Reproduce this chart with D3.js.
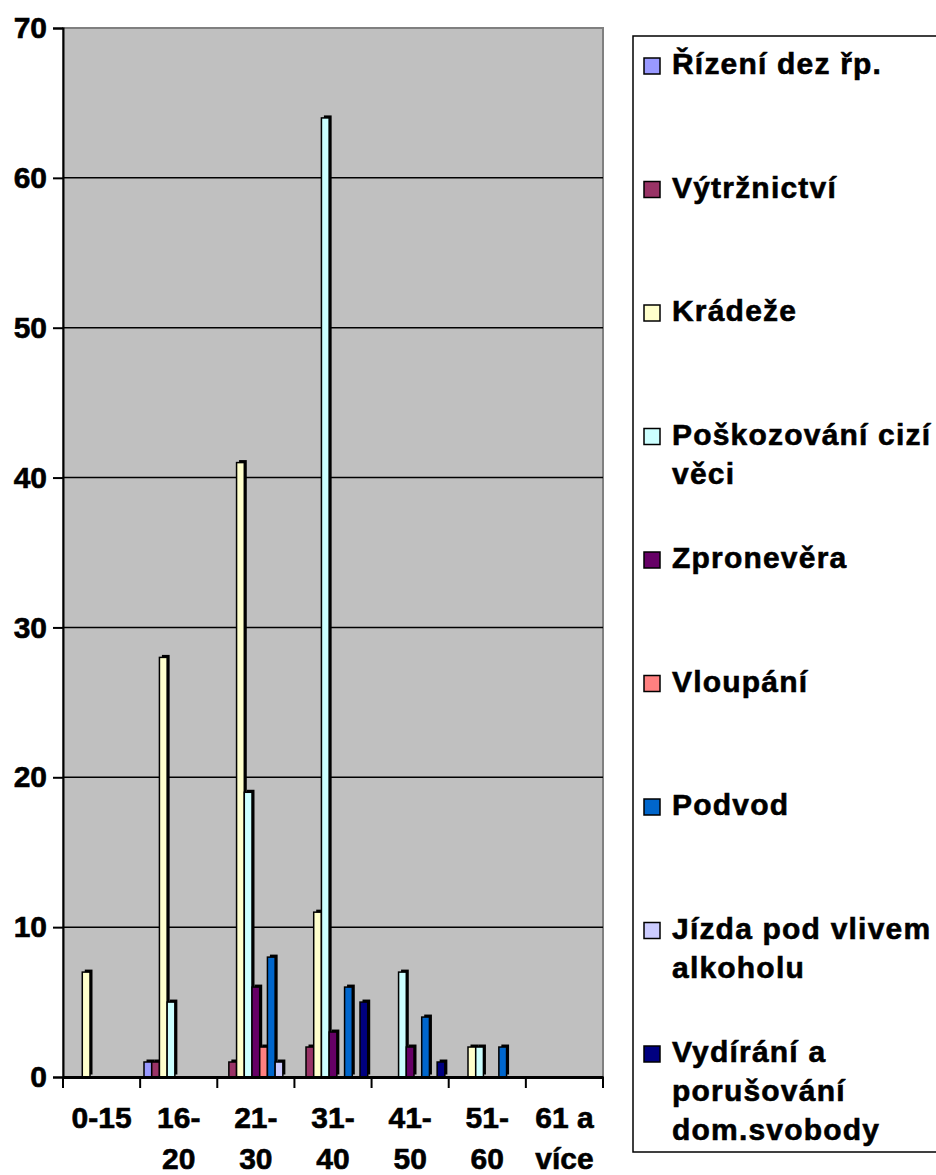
<!DOCTYPE html>
<meta charset="utf-8">
<style>
body { margin: 0; background: #fff; }
text { font-family: "Liberation Sans", Arial, sans-serif; font-weight: 700; fill: #000; stroke: #000; stroke-width: 0.6px; }
</style>
<svg width="936" height="1175"></svg>
<script src="https://cdn.jsdelivr.net/npm/d3@7"></script>
<script>
// categories (age groups) and their tick label lines
var categories = ["0-15", "16-20", "21-30", "31-40", "41-50", "51-60", "61 a více"];
var tickLines = [["0-15"], ["16-", "20"], ["21-", "30"], ["31-", "40"], ["41-", "50"], ["51-", "60"], ["61 a", "více"]];

// series values, one per category
var rizeni      = [0, 1, 0, 0, 0, 0, 0];
var vytrznictvi = [0, 1, 1, 2, 0, 0, 0];
var kradeze     = [7, 28, 41, 11, 0, 2, 0];
var poskozovani = [0, 5, 19, 64, 7, 2, 0];
var zpronevera  = [0, 0, 6, 3, 2, 0, 0];
var vloupani    = [0, 0, 2, 0, 0, 0, 0];
var podvod      = [0, 0, 8, 6, 4, 2, 0];
var jizda       = [0, 0, 1, 0, 0, 0, 0];
var vydirani    = [0, 0, 0, 5, 1, 0, 0];

var seriesNames = ["Řízení dez řp.", "Výtržnictví", "Krádeže", "Poškozování cizí věci", "Zpronevěra",
  "Vloupání", "Podvod", "Jízda pod vlivem alkoholu", "Vydírání a porušování dom.svobody"];
var legendLines = [["Řízení dez řp."], ["Výtržnictví"], ["Krádeže"], ["Poškozování cizí", "věci"], ["Zpronevěra"],
  ["Vloupání"], ["Podvod"], ["Jízda pod vlivem", "alkoholu"], ["Vydírání a", "porušování", "dom.svobody"]];
var seriesValues = [rizeni, vytrznictvi, kradeze, poskozovani, zpronevera, vloupani, podvod, jizda, vydirani];
var colors = ["#9999FF", "#993366", "#FFFFCC", "#CCFFFF", "#660066", "#FF8080", "#0066CC", "#CCCCFF", "#000080"];
var yTicks = [0, 10, 20, 30, 40, 50, 60, 70];

var svg = d3.select("svg"),
    plot = {left: 63, top: 28, right: 603, bottom: 1077},
    font = "'Liberation Sans', Arial, sans-serif";

// scales
var x = d3.scaleBand().domain(categories).range([plot.left, plot.right]).padding(0),
    xs = d3.scaleBand().domain(d3.range(seriesNames.length)).range([0, x.bandwidth()]).paddingInner(0).paddingOuter(0.5),
    y = d3.scaleLinear().domain([0, 70]).range([plot.bottom, plot.top]),
    z = d3.scaleOrdinal().domain(d3.range(seriesNames.length)).range(colors);

// plot area background
svg.append("rect")
    .attr("x", plot.left).attr("y", plot.top)
    .attr("width", plot.right - plot.left).attr("height", plot.bottom - plot.top)
    .attr("fill", "#C0C0C0").attr("stroke", "#808080").attr("stroke-width", 2);

// gridlines
svg.append("g").selectAll("line")
    .data(yTicks.filter(function(d) { return d > 0 && d < 70; }))
    .enter().append("line")
    .attr("x1", plot.left).attr("x2", plot.right)
    .attr("y1", function(d) { return y(d); }).attr("y2", function(d) { return y(d); })
    .attr("stroke", "#000").attr("stroke-width", 1.5);

// bars, series by series
var rows = [];
categories.forEach(function(c, ci) {
  seriesValues.forEach(function(vals, si) {
    rows.push({cat: c, s: si, v: vals[ci]});
  });
});

var bars = svg.append("g").selectAll("g")
    .data(rows)
    .enter().append("g");

// dark shadow up and to the right
bars.append("rect")
    .attr("x", function(d) { return x(d.cat) + xs(d.s) + 2.5; })
    .attr("y", function(d) { return y(d.v) - 2.5; })
    .attr("width", xs.bandwidth())
    .attr("height", function(d) { return y(0) - y(d.v); })
    .attr("fill", "#000");

bars.append("rect")
    .attr("x", function(d) { return x(d.cat) + xs(d.s); })
    .attr("y", function(d) { return y(d.v); })
    .attr("width", xs.bandwidth())
    .attr("height", function(d) { return y(0) - y(d.v); })
    .attr("fill", function(d) { return z(d.s); })
    .attr("stroke", "#000").attr("stroke-width", 1.5);

// y axis
var yAxis = svg.append("g")
    .attr("transform", "translate(" + plot.left + ",0)")
    .call(d3.axisLeft(y).tickValues(yTicks).tickSize(10).tickPadding(6).tickFormat(d3.format("d")));
yAxis.attr("font-family", null).attr("font-size", null);
yAxis.select(".domain").attr("stroke", "#000").attr("stroke-width", 2);
yAxis.selectAll(".tick line").attr("stroke", "#000").attr("stroke-width", 2);
yAxis.selectAll(".tick text")
    .style("font-family", font).style("font-size", "30px").style("font-weight", "700")
    .attr("fill", "#000");

// x axis
var xAxis = svg.append("g")
    .attr("transform", "translate(0," + plot.bottom + ")")
    .call(d3.axisBottom(x).tickSize(0).tickFormat(""));
xAxis.select(".domain").attr("stroke", "#000").attr("stroke-width", 3);

svg.append("g").selectAll("line")
    .data(categories.concat(["end"]))
    .enter().append("line")
    .attr("x1", function(d, i) { return plot.left + i * x.step(); })
    .attr("x2", function(d, i) { return plot.left + i * x.step(); })
    .attr("y1", plot.bottom).attr("y2", plot.bottom + 11)
    .attr("stroke", "#000").attr("stroke-width", 2);

var xLabels = svg.append("g").selectAll("text")
    .data(categories)
    .enter().append("text")
    .attr("text-anchor", "middle")
    .style("font-family", font)
    .style("font-size", "30px")
    .style("font-weight", "700");
xLabels.selectAll("tspan")
    .data(function(d, i) { return tickLines[i].map(function(t) { return {t: t, c: d}; }); })
    .enter().append("tspan")
    .attr("x", function(d) { return x(d.c) + x.bandwidth() / 2; })
    .attr("y", function(d, i) { return 1128 + i * 41; })
    .text(function(d) { return d.t; });

// legend
svg.append("rect")
    .attr("x", 633).attr("y", 36).attr("width", 320).attr("height", 1116)
    .attr("fill", "#fff").attr("stroke", "#000").attr("stroke-width", 1.5);

var legend = svg.append("g").selectAll("g")
    .data(seriesNames)
    .enter().append("g")
    .attr("transform", function(d, i) { return "translate(644," + (74 + i * 123.5) + ")"; });

legend.append("rect")
    .attr("x", 0).attr("y", -16).attr("width", 16).attr("height", 16)
    .attr("fill", function(d, i) { return z(i); })
    .attr("stroke", "#000").attr("stroke-width", 1.5);

legend.append("text")
    .style("font-family", font)
    .style("font-size", "30px")
    .style("font-weight", "700")
    .style("letter-spacing", "1.2px")
    .selectAll("tspan")
    .data(function(d, i) { return legendLines[i]; })
    .enter().append("tspan")
    .attr("x", 28)
    .attr("y", function(d, i) { return i * 39; })
    .text(function(d) { return d; });
</script>
